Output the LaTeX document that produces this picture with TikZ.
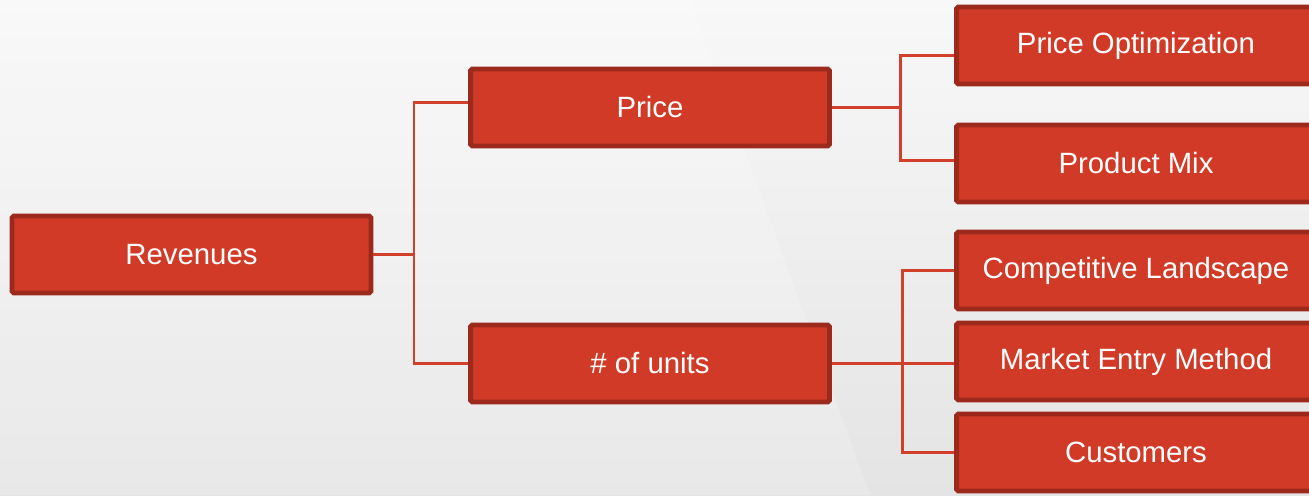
\documentclass[tikz,border=0pt]{standalone}
\usepackage{fontspec}
\setmainfont{Liberation Sans}
\definecolor{boxfill}{HTML}{D13A27}
\definecolor{boxline}{HTML}{9C2A1C}
\definecolor{conn}{HTML}{D23F2A}
\definecolor{bgtop}{HTML}{F8F8F8}
\definecolor{bgbot}{HTML}{E4E4E4}
\tikzset{
  box/.style={draw=boxline, fill=boxfill, line width=2.8pt, rounded corners=1pt,
    minimum width=7.18cm, minimum height=1.54cm, inner sep=0pt,
    text=white, font=\fontsize{16.7}{20}\selectfont},
  link/.style={draw=conn, line width=1.7pt}
}
\begin{document}
\begin{tikzpicture}[x=0.02cm, y=-0.02cm]
\useasboundingbox (0,0) rectangle (1309,495);
\begin{scope}
\clip (0,0) rectangle (1309,495);
\shade[top color=bgtop, bottom color=bgbot] (0,0) rectangle (1309,495);
\fill[white, opacity=0.18] (0,0) -- (690,0) -- (870,495) -- (0,495) -- cycle;

\node[box] (rev) at (191.5,254.5) {Revenues};
\node[box] (price) at (650,107.5) {Price};
\node[box] (units) at (650,363.5) {\# of units};
\node[box] (po) at (1136,45.5) {Price Optimization};
\node[box] (pm) at (1136,163.5) {Product Mix};
\node[box] (cl) at (1136,270.5) {Competitive Landscape};
\node[box] (mem) at (1136,361.5) {Market Entry Method};
\node[box] (cust) at (1136,452.5) {Customers};

\coordinate (j1) at (414,254.5);
\coordinate (j2) at (900,107.5);
\coordinate (j3) at (902,363.5);

\draw[link] (rev.east) -- (j1);
\draw[link] ([yshift=0.1cm]price.west) -| (j1) |- (units.west);
\draw[link] (price.east) -- (j2);
\draw[link] ([yshift=-0.2cm]po.west) -| (j2) |- ([yshift=0.06cm]pm.west);
\draw[link] (units.east) -- (j3);
\draw[link] (cl.west) -| (j3) |- (cust.west);
\draw[link] (j3) -- (j3 -| mem.west);
\end{scope}
\end{tikzpicture}
\end{document}
